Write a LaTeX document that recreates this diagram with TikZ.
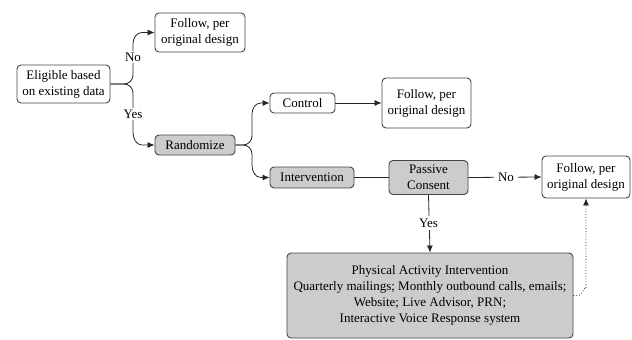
\documentclass[tikz,border=0pt]{standalone}
\usepackage{fontspec}
\setmainfont{Liberation Serif}
\newfontfamily\diagfont{Liberation Serif}
\usetikzlibrary{arrows.meta}
\definecolor{boxgray}{HTML}{CCCCCC}
\definecolor{edge}{HTML}{444444}
\begin{document}
\begin{tikzpicture}[x=1pt,y=-1pt,
  every node/.style={font=\diagfont\fontsize{13}{16}\selectfont, align=center, inner sep=1pt},
  box/.style={draw=edge, line width=0.9pt, rounded corners=4pt, fill=white},
  graybox/.style={box, fill=boxgray},
  conn/.style={draw=black!85, line width=0.8pt},
  arr/.style={conn, -{Latex[length=7pt,width=6pt]}},
  lbl/.style={fill=white, inner sep=2pt}]
\useasboundingbox (0,0) rectangle (632,340);

\node[box, minimum width=93pt, minimum height=38pt] (elig) at (63.5,84) {Eligible based\\on existing data};
\node[box, minimum width=90pt, minimum height=39pt] (f1) at (200,32.5) {Follow, per\\original design};
\node[graybox, minimum width=80pt, minimum height=20pt] (rand) at (195,145) {Randomize};
\node[box, minimum width=65pt, minimum height=20pt] (ctrl) at (302.5,103) {Control};
\node[box, minimum width=89pt, minimum height=50pt] (f2) at (426.5,103) {Follow, per\\original design};
\node[graybox, minimum width=84pt, minimum height=21pt] (interv) at (312,177.5) {Intervention};
\node[graybox, minimum width=79pt, minimum height=34pt] (pass) at (428.5,177.5) {Passive\\Consent};
\node[box, minimum width=88pt, minimum height=42pt] (f3) at (586,177) {Follow, per\\original design};
\node[graybox, minimum width=286pt, minimum height=85pt] (big) at (430,295.5) {Physical Activity Intervention\\Quarterly mailings; Monthly outbound calls, emails;\\Website; Live Advisor, PRN;\\Interactive Voice Response system};

% Eligible bracket
\draw[arr] (elig.east) -- (124,84) to[out=0,in=90] (133,93) -- (133,132) to[out=-90,in=180] (142,145) -- (rand.west);
\draw[arr] (elig.east) -- (124,84) to[out=0,in=-90] (133,75) -- (133,44) to[out=90,in=180] (142,32.5) -- (f1.west);
\node[lbl] (no1) at (133,57) {No};
\node[lbl] (yes1) at (133,114) {Yes};

% Randomize bracket
\draw[arr] (rand.east) -- (243,145) to[out=0,in=90] (252,154) -- (252,165) to[out=-90,in=180] (261,177.5) -- (interv.west);
\draw[arr] (rand.east) -- (243,145) to[out=0,in=-90] (252,136) -- (252,114) to[out=90,in=180] (261,103) -- (ctrl.west);

\draw[arr] (ctrl.east) -- (f2.west);
\draw[conn, line width=1.4pt] (interv.east) -- (pass.west);
\draw[arr] (pass.east) -- (f3.west);
\node[lbl, inner xsep=4pt] (no2) at (506,177) {No};
\draw[arr] (pass.south) -- (big.north);
\node[lbl, inner ysep=3pt] (yes2) at (428.5,223) {Yes};

\draw[arr, dotted] (big.east) -- (578,295.5) to[out=0,in=90] (586,287.5) -- (f3.south);
\end{tikzpicture}
\end{document}
